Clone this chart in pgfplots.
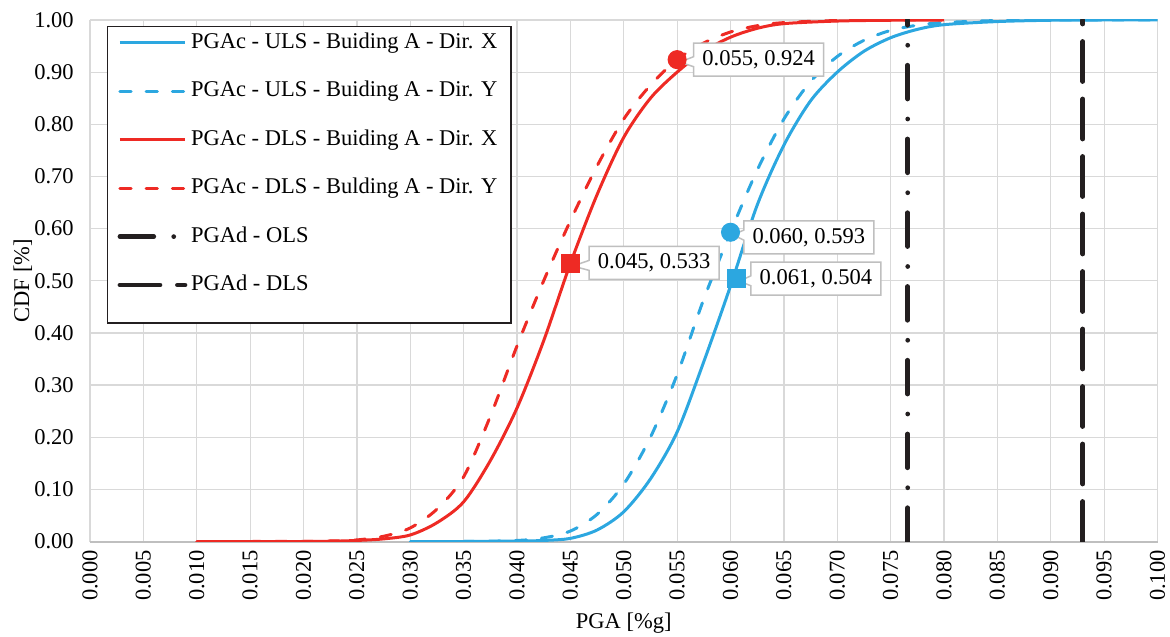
\documentclass[border=0pt]{standalone}
\usepackage{fontspec}
\setmainfont{Liberation Serif}
\usepackage{pgfplots}
\usepackage{pgfplotstable}
\pgfplotsset{compat=1.18}
\usetikzlibrary{shapes.callouts}

\definecolor{ulsBlue}{HTML}{2CA7E0}
\definecolor{dlsRed}{HTML}{EE2A24}
\definecolor{limBlack}{HTML}{231F20}
\definecolor{gridGray}{HTML}{D9D9D9}
\definecolor{boxGray}{HTML}{BFBFBF}

% CDF curves
\pgfplotstableread{
x y
0.0300 0.000
0.0350 0.000
0.0400 0.0008
0.0425 0.002
0.0450 0.006
0.0475 0.022
0.0500 0.057
0.0525 0.120
0.0550 0.210
0.0575 0.345
0.0600 0.490
0.0625 0.645
0.0650 0.760
0.0675 0.845
0.0700 0.900
0.0725 0.940
0.0750 0.966
0.0775 0.982
0.0800 0.991
0.0850 0.997
0.0900 0.9995
0.0950 1.000
0.1000 1.000
}\ulsx
\pgfplotstableread{
x y
0.0300 0.000
0.0350 0.000
0.0400 0.002
0.0425 0.007
0.0450 0.020
0.0475 0.052
0.0500 0.110
0.0525 0.200
0.0550 0.320
0.0575 0.465
0.0600 0.593
0.0625 0.712
0.0650 0.810
0.0675 0.882
0.0700 0.930
0.0725 0.961
0.0750 0.980
0.0775 0.990
0.0800 0.995
0.0850 0.999
0.0900 1.000
0.1000 1.000
}\ulsy
\pgfplotstableread{
x y
0.0100 0.000
0.0150 0.000
0.0200 0.000
0.0225 0.0005
0.0250 0.002
0.0275 0.005
0.0300 0.0125
0.0325 0.036
0.0350 0.076
0.0375 0.155
0.0400 0.256
0.0425 0.385
0.0450 0.533
0.0475 0.665
0.0500 0.775
0.0525 0.850
0.0550 0.900
0.0575 0.940
0.0600 0.967
0.0625 0.984
0.0650 0.993
0.0700 0.998
0.0750 0.9995
0.0800 1.000
}\dlsx
\pgfplotstableread{
x y
0.0100 0.000
0.0150 0.000
0.0200 0.0002
0.0225 0.001
0.0250 0.003
0.0275 0.010
0.0300 0.026
0.0325 0.062
0.0350 0.124
0.0375 0.240
0.0400 0.375
0.0425 0.500
0.0450 0.615
0.0475 0.720
0.0500 0.810
0.0525 0.875
0.0550 0.924
0.0575 0.956
0.0600 0.977
0.0625 0.989
0.0650 0.995
0.0700 0.999
0.0750 1.000
0.0800 1.000
}\dlsy

\begin{document}
\begin{tikzpicture}[font=\fontsize{9}{11}\selectfont,
  lab/.style={rectangle callout, fill=white, draw=boxGray, line width=0.6pt,
    inner xsep=3.5pt, inner ysep=0pt, minimum height=13.2pt, callout pointer width=4pt}]
\begin{axis}[
    name=ax,
    scale only axis,
    width=427pt, height=208.6pt,
    xmin=0, xmax=0.1, ymin=0, ymax=1,
    xtick distance=0.005, ytick distance=0.1,
    scaled x ticks=false, scaled y ticks=false,
    grid=major,
    grid style={gridGray, line width=0.5pt},
    axis line style={draw=none},
    major tick length=0pt,
    extra y ticks={0}, extra y tick labels={},
    extra y tick style={grid style={boxGray, line width=0.8pt}},
    /pgf/number format/assume math mode=true,
    xticklabel style={rotate=90, anchor=east,
        /pgf/number format/.cd, fixed, fixed zerofill, precision=3},
    yticklabel style={xshift=-3pt,
        /pgf/number format/.cd, fixed, fixed zerofill, precision=2},
    xlabel={PGA [\%g]}, ylabel={CDF [\%]},
    ylabel shift=-6pt,
    xlabel shift=-2pt,
    legend cell align=left,
    legend image code/.code={\draw[#1] (0pt,0pt) -- (26pt,0pt);},
    legend style={at={(rel axis cs:0.0158,0.9885)}, anchor=north west,
        draw=limBlack, line width=0.6pt, fill=white,
        row sep=7.9pt, inner xsep=4pt, inner ysep=0.6pt,
        nodes={text height=6.5pt, text depth=2pt, inner sep=1.5pt}},
]
\addplot[ulsBlue, line width=1.2pt, smooth] table {\ulsx};
\addlegendentry{PGAc - ULS - Buiding A - Dir. X}
\addplot[ulsBlue, line width=1.2pt, smooth, line cap=round,
    dash pattern=on 4.5pt off 6pt] table {\ulsy};
\addlegendentry{PGAc - ULS - Buiding A - Dir. Y}
\addplot[dlsRed, line width=1.2pt, smooth] table {\dlsx};
\addlegendentry{PGAc - DLS - Buiding A - Dir. X}
\addplot[dlsRed, line width=1.2pt, smooth, line cap=round,
    dash pattern=on 4.5pt off 6pt] table {\dlsy};
\addlegendentry{PGAc - DLS - Bulding A - Dir. Y}
\addplot[limBlack, line width=1.9pt, line cap=round,
    dash pattern=on 13.5pt off 8pt on 0pt off 8pt] coordinates {(0.0766,0) (0.0766,1)};
\addlegendentry{PGAd - OLS}
\addplot[limBlack, line width=1.9pt, line cap=round,
    dash pattern=on 16pt off 7pt] coordinates {(0.0930,0) (0.0930,1)};
\addlegendentry{PGAd - DLS}
% empty row: extra room at the bottom of the legend box
\addlegendimage{empty legend}
\addlegendentry[inner sep=0pt, text height=0pt, text depth=0pt]{}

% data labels, then the highlighted points on top of their pointers
\node[lab, xshift=32.6pt, callout absolute pointer={([xshift=1pt,yshift=-1pt]axis cs:0.055,0.924)}] at (axis cs:0.055,0.924) {0.055, 0.924};
\node[lab, xshift=33.5pt, yshift=0.3pt, callout absolute pointer={([xshift=1pt,yshift=-1pt]axis cs:0.045,0.533)}] at (axis cs:0.045,0.533) {0.045, 0.533};
\node[lab, xshift=31.3pt, yshift=-2.1pt, callout absolute pointer={([xshift=1pt,yshift=-1pt]axis cs:0.060,0.593)}] at (axis cs:0.060,0.593) {0.060, 0.593};
\node[lab, xshift=31.6pt, callout absolute pointer={([xshift=1pt,yshift=-1pt]axis cs:0.0606,0.504)}] at (axis cs:0.0606,0.504) {0.061, 0.504};

\addplot[forget plot, only marks, mark=*, mark size=3.6pt, color=dlsRed] coordinates {(0.055,0.924)};
\addplot[forget plot, only marks, mark=square*, mark size=3.6pt, color=dlsRed] coordinates {(0.045,0.533)};
\addplot[forget plot, only marks, mark=*, mark size=3.6pt, color=ulsBlue] coordinates {(0.060,0.593)};
\addplot[forget plot, only marks, mark=square*, mark size=3.6pt, color=ulsBlue] coordinates {(0.0606,0.504)};
\end{axis}
\pgfresetboundingbox
\path[use as bounding box] ([xshift=-36pt,yshift=-37.8pt]ax.south west) rectangle ++(468pt,254.4pt);
\end{tikzpicture}
\end{document}
